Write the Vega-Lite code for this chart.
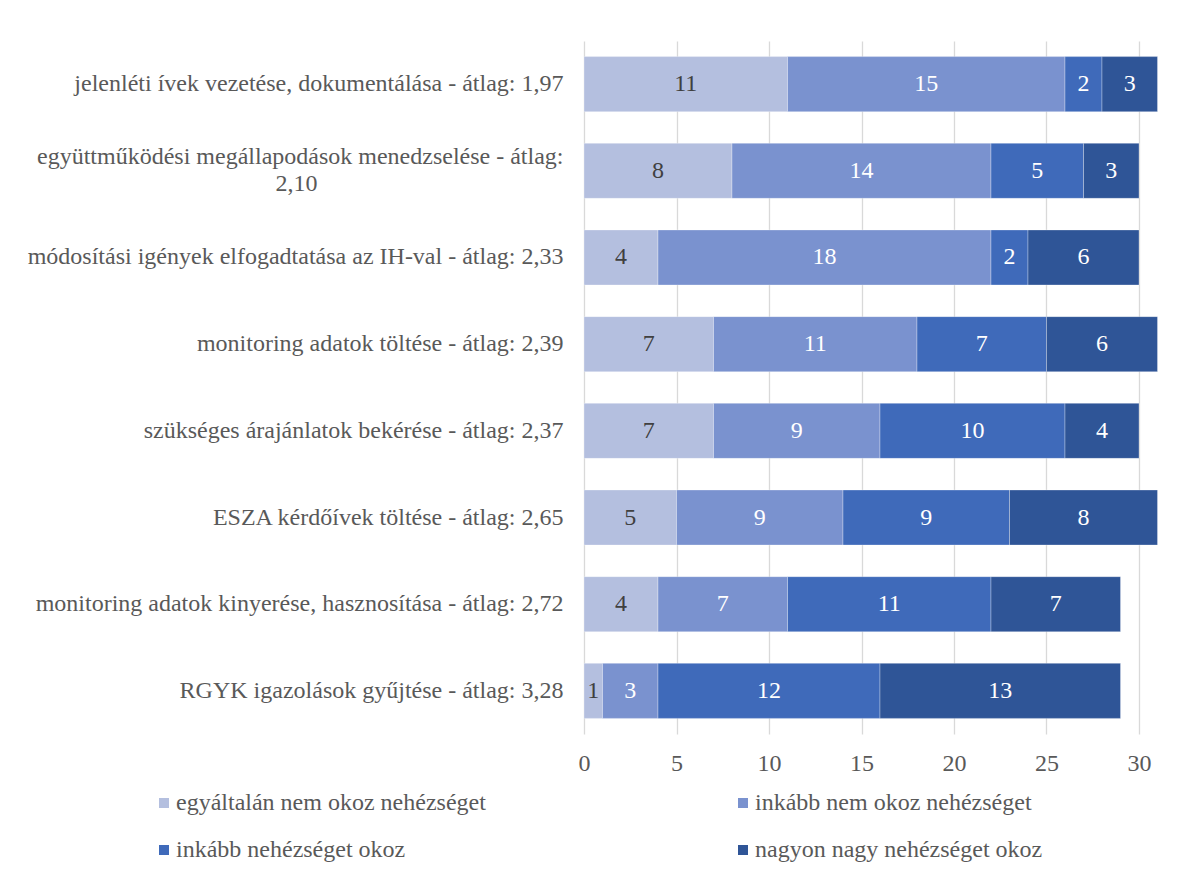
{
  "$schema": "https://vega.github.io/schema/vega-lite/v6.json",
  "autosize": "none",
  "padding": {"left": 584, "top": 41, "right": 27, "bottom": 147},
  "width": 573.5,
  "height": 693,
  "background": "white",
  "config": {
    "font": "Liberation Serif",
    "view": {"stroke": null}
  },
  "data": {
    "values": [
      {"cat": "jelenléti ívek vezetése, dokumentálása - átlag: 1,97", "series": "egyáltalán nem okoz nehézséget", "ord": 1, "value": 11},
      {"cat": "jelenléti ívek vezetése, dokumentálása - átlag: 1,97", "series": "inkább nem okoz nehézséget", "ord": 2, "value": 15},
      {"cat": "jelenléti ívek vezetése, dokumentálása - átlag: 1,97", "series": "inkább nehézséget okoz", "ord": 3, "value": 2},
      {"cat": "jelenléti ívek vezetése, dokumentálása - átlag: 1,97", "series": "nagyon nagy nehézséget okoz", "ord": 4, "value": 3},
      {"cat": "együttműködési megállapodások menedzselése - átlag:|2,10", "series": "egyáltalán nem okoz nehézséget", "ord": 1, "value": 8},
      {"cat": "együttműködési megállapodások menedzselése - átlag:|2,10", "series": "inkább nem okoz nehézséget", "ord": 2, "value": 14},
      {"cat": "együttműködési megállapodások menedzselése - átlag:|2,10", "series": "inkább nehézséget okoz", "ord": 3, "value": 5},
      {"cat": "együttműködési megállapodások menedzselése - átlag:|2,10", "series": "nagyon nagy nehézséget okoz", "ord": 4, "value": 3},
      {"cat": "módosítási igények elfogadtatása az IH-val - átlag: 2,33", "series": "egyáltalán nem okoz nehézséget", "ord": 1, "value": 4},
      {"cat": "módosítási igények elfogadtatása az IH-val - átlag: 2,33", "series": "inkább nem okoz nehézséget", "ord": 2, "value": 18},
      {"cat": "módosítási igények elfogadtatása az IH-val - átlag: 2,33", "series": "inkább nehézséget okoz", "ord": 3, "value": 2},
      {"cat": "módosítási igények elfogadtatása az IH-val - átlag: 2,33", "series": "nagyon nagy nehézséget okoz", "ord": 4, "value": 6},
      {"cat": "monitoring adatok töltése - átlag: 2,39", "series": "egyáltalán nem okoz nehézséget", "ord": 1, "value": 7},
      {"cat": "monitoring adatok töltése - átlag: 2,39", "series": "inkább nem okoz nehézséget", "ord": 2, "value": 11},
      {"cat": "monitoring adatok töltése - átlag: 2,39", "series": "inkább nehézséget okoz", "ord": 3, "value": 7},
      {"cat": "monitoring adatok töltése - átlag: 2,39", "series": "nagyon nagy nehézséget okoz", "ord": 4, "value": 6},
      {"cat": "szükséges árajánlatok bekérése - átlag: 2,37", "series": "egyáltalán nem okoz nehézséget", "ord": 1, "value": 7},
      {"cat": "szükséges árajánlatok bekérése - átlag: 2,37", "series": "inkább nem okoz nehézséget", "ord": 2, "value": 9},
      {"cat": "szükséges árajánlatok bekérése - átlag: 2,37", "series": "inkább nehézséget okoz", "ord": 3, "value": 10},
      {"cat": "szükséges árajánlatok bekérése - átlag: 2,37", "series": "nagyon nagy nehézséget okoz", "ord": 4, "value": 4},
      {"cat": "ESZA kérdőívek töltése - átlag: 2,65", "series": "egyáltalán nem okoz nehézséget", "ord": 1, "value": 5},
      {"cat": "ESZA kérdőívek töltése - átlag: 2,65", "series": "inkább nem okoz nehézséget", "ord": 2, "value": 9},
      {"cat": "ESZA kérdőívek töltése - átlag: 2,65", "series": "inkább nehézséget okoz", "ord": 3, "value": 9},
      {"cat": "ESZA kérdőívek töltése - átlag: 2,65", "series": "nagyon nagy nehézséget okoz", "ord": 4, "value": 8},
      {"cat": "monitoring adatok kinyerése, hasznosítása - átlag: 2,72", "series": "egyáltalán nem okoz nehézséget", "ord": 1, "value": 4},
      {"cat": "monitoring adatok kinyerése, hasznosítása - átlag: 2,72", "series": "inkább nem okoz nehézséget", "ord": 2, "value": 7},
      {"cat": "monitoring adatok kinyerése, hasznosítása - átlag: 2,72", "series": "inkább nehézséget okoz", "ord": 3, "value": 11},
      {"cat": "monitoring adatok kinyerése, hasznosítása - átlag: 2,72", "series": "nagyon nagy nehézséget okoz", "ord": 4, "value": 7},
      {"cat": "RGYK igazolások gyűjtése - átlag: 3,28", "series": "egyáltalán nem okoz nehézséget", "ord": 1, "value": 1},
      {"cat": "RGYK igazolások gyűjtése - átlag: 3,28", "series": "inkább nem okoz nehézséget", "ord": 2, "value": 3},
      {"cat": "RGYK igazolások gyűjtése - átlag: 3,28", "series": "inkább nehézséget okoz", "ord": 3, "value": 12},
      {"cat": "RGYK igazolások gyűjtése - átlag: 3,28", "series": "nagyon nagy nehézséget okoz", "ord": 4, "value": 13}
    ]
  },
  "transform": [
    {"stack": "value", "groupby": ["cat"], "sort": [{"field": "ord", "order": "ascending"}], "as": ["x0", "x1"]},
    {"calculate": "(datum.x0 + datum.x1) / 2", "as": "xm"}
  ],
  "encoding": {
    "y": {
      "field": "cat",
      "type": "nominal",
      "sort": null,
      "scale": {"paddingInner": 0.365, "paddingOuter": 0.18},
      "axis": {
        "title": null,
        "ticks": false,
        "domain": false,
        "labelFont": "Liberation Serif",
        "labelFontSize": 24,
        "labelColor": "#595959",
        "labelPadding": 21,
        "labelLimit": 700,
        "labelLineHeight": 27,
        "labelOffset": {"condition": {"test": "indexof(datum.value, '|') >= 0", "value": -13.5}, "value": 0},
        "labelExpr": "indexof(datum.label, '|') < 0 ? datum.label : [split(datum.label, '|')[0], split(datum.label, '|')[1] + '\u2003\u2003\u2003\u2003\u2003\u2003\u2003\u2003\u2003\u2003\u00a0\u2060']"
      }
    }
  },
  "layer": [
    {
      "mark": {"type": "bar", "stroke": "white", "strokeWidth": 0.6, "strokeOpacity": 0.5},
      "encoding": {
        "x": {
          "field": "x0",
          "type": "quantitative",
          "scale": {"domain": [0, 31], "nice": false},
          "axis": {
            "title": null,
            "values": [0, 5, 10, 15, 20, 25, 30],
            "grid": true,
            "gridColor": "#D9D9D9",
            "gridWidth": 1.3,
            "ticks": false,
            "domain": false,
            "labelFlush": false,
            "labelFont": "Liberation Serif",
            "labelFontSize": 24,
            "labelColor": "#595959",
            "labelPadding": 17
          }
        },
        "x2": {"field": "x1"},
        "color": {
          "field": "series",
          "type": "nominal",
          "sort": ["egyáltalán nem okoz nehézséget", "inkább nem okoz nehézséget", "inkább nehézséget okoz", "nagyon nagy nehézséget okoz"],
          "scale": {
            "domain": ["egyáltalán nem okoz nehézséget", "inkább nem okoz nehézséget", "inkább nehézséget okoz", "nagyon nagy nehézséget okoz"],
            "range": ["#B4BFDF", "#7A92CF", "#3F6ABA", "#2F5597"]
          },
          "legend": {
            "title": null,
            "orient": "none",
            "legendX": -432,
            "legendY": 750,
            "direction": "horizontal",
            "columns": 2,
            "columnPadding": 245,
            "rowPadding": 23,
            "symbolType": "square",
            "symbolSize": 100,
            "symbolStrokeWidth": 0,
            "labelFont": "Liberation Serif",
            "labelFontSize": 24,
            "labelColor": "#595959",
            "labelOffset": 0,
            "labelLimit": 500
          }
        }
      }
    },
    {
      "mark": {"type": "text", "font": "Liberation Serif", "fontSize": 24, "align": "center", "baseline": "middle"},
      "encoding": {
        "x": {"field": "xm", "type": "quantitative"},
        "text": {"field": "value", "type": "quantitative"},
        "color": {
          "condition": {"test": "datum.ord == 1", "value": "#404040"},
          "value": "#FFFFFF"
        }
      }
    }
  ]
}
